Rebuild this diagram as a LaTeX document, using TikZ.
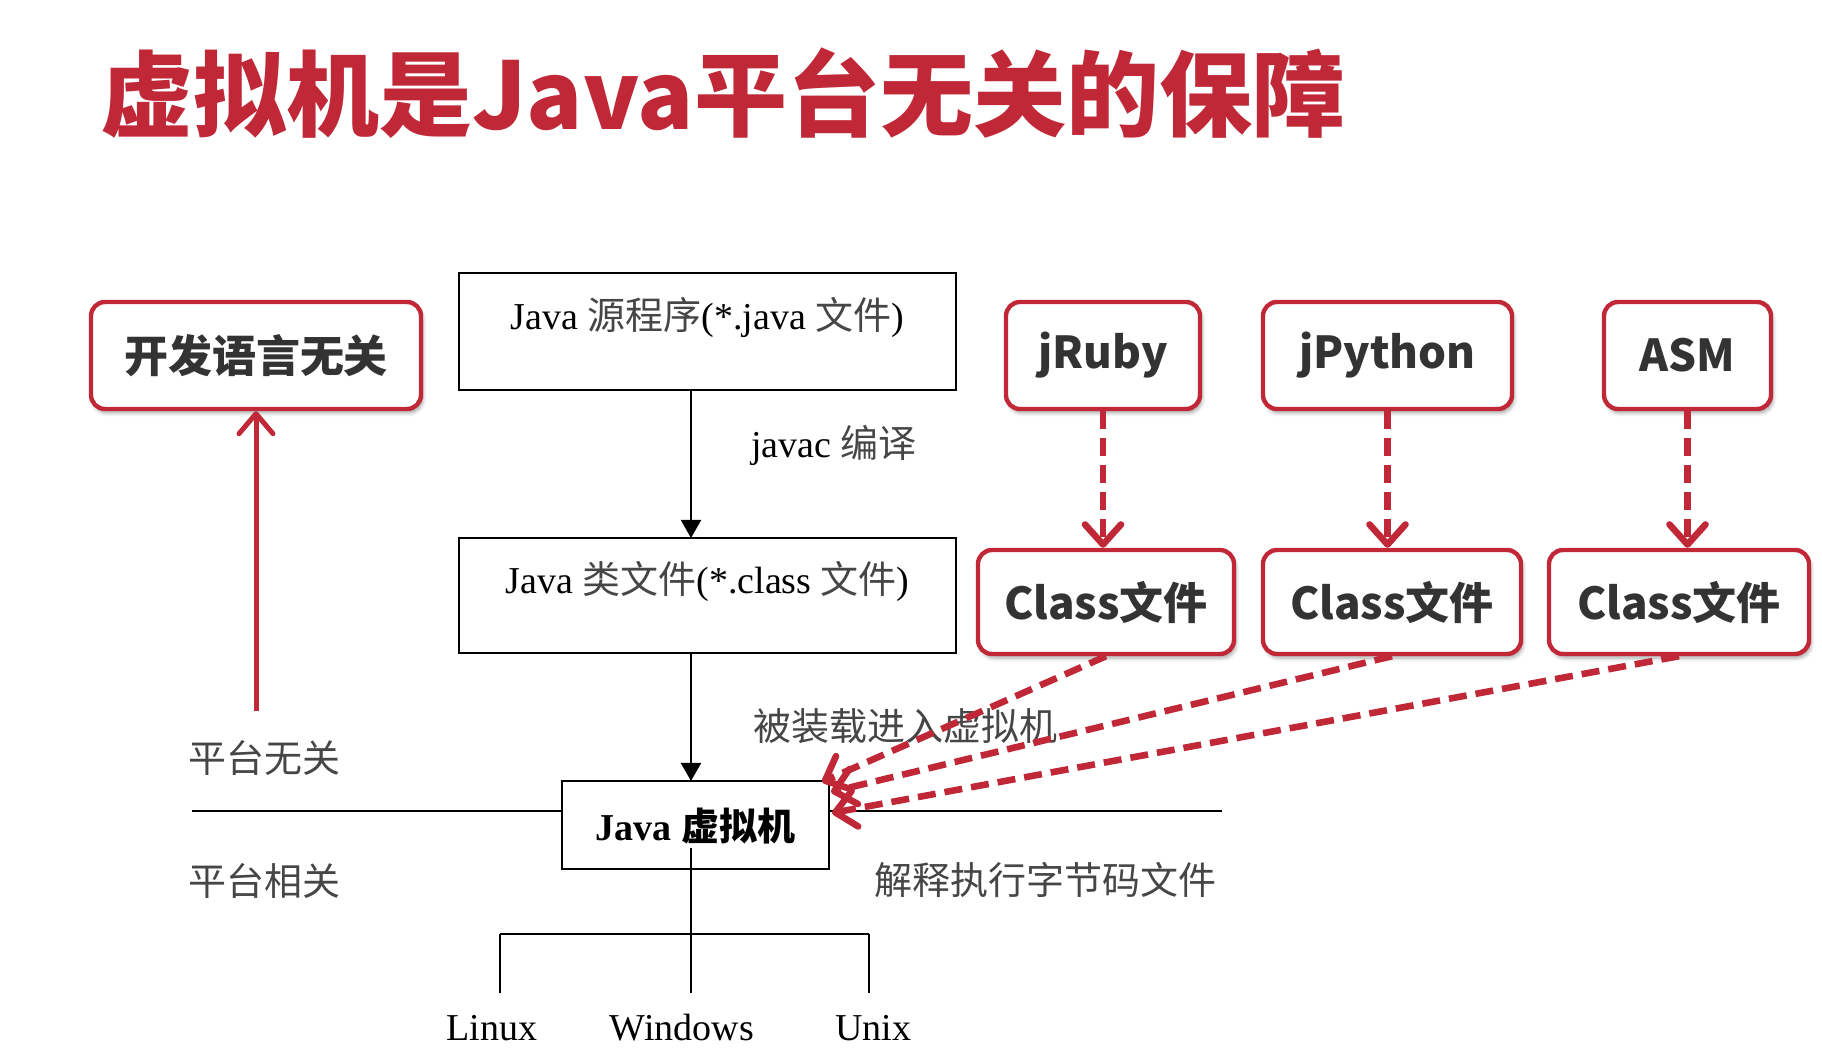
\documentclass[tikz,border=0pt]{standalone}
\usepackage{fontspec}
\setmainfont{Liberation Serif}
\newfontfamily\cjk{Noto Sans CJK SC}
\usetikzlibrary{arrows.meta,shadows.blur}
\definecolor{jred}{RGB}{192,40,56}
\definecolor{ink}{RGB}{51,51,51}
\definecolor{zhgray}{RGB}{70,70,70}
\newcommand{\zh}[1]{{\cjk\color{zhgray}#1}}
\tikzset{
  redbox/.style={draw=jred, line width=2.2pt, rounded corners=7pt, fill=white,
    blur shadow={shadow xshift=1pt, shadow yshift=-2pt, shadow blur steps=6, shadow opacity=35},
    font=\cjk\bfseries\fontsize{22}{26}\selectfont, text=ink, inner sep=0pt},
  blackbox/.style={draw=black, line width=1.2pt, fill=white, inner sep=0pt},
  bt/.style={font=\fontsize{19}{22}\selectfont, text=black, inner sep=0pt},
  thin/.style={draw=black, line width=1pt},
  blackarrow/.style={thin, -{Triangle[length=9pt,width=10pt]}},
  reddash/.style={draw=jred, line width=3.3pt, dash pattern=on 9pt off 4.5pt,
    -{Straight Barb[length=10pt,width=18pt,round]}},
  redsolid/.style={draw=jred, line width=2.5pt, -{Straight Barb[length=10pt,width=17pt,round]}}
}
\begin{document}
\begin{tikzpicture}[x=0.5pt,y=-0.5pt]
\useasboundingbox (0,0) rectangle (1822,1052);
% title
\node[anchor=west, inner sep=0pt, text=jred, font=\cjk\bfseries\fontsize{46.5}{52}\selectfont] (title) at (100,93) {虚拟机是Java平台无关的保障};
% left
\node[redbox, minimum width=165pt, minimum height=53.5pt] (lang) at (256,355.5) {开发语言无关};
% black flow
\node[blackbox, minimum width=248.5pt, minimum height=58.5pt] (src) at (707.5,331.5) {};
\node[bt] (srct) at (707.5,317) {Java \zh{源程序}(*.java \zh{文件})};
\node[blackbox, minimum width=248.5pt, minimum height=57.5pt] (cls) at (707.5,595.5) {};
\node[bt] (clst) at (707.5,581) {Java \zh{类文件}(*.class \zh{文件})};
\node[blackbox, minimum width=133.5pt, minimum height=44pt] (jvm) at (695.5,825) {};
\node[bt, font=\bfseries\fontsize{19}{22}\selectfont] (jvmt) at (695.5,826) {Java {\cjk\bfseries 虚拟机}};
\node[bt] (javac) at (834,445) {javac \zh{编译}};
\node[bt] (load) at (905,726) {\zh{被装载进入虚拟机}};
\node[bt] (ind) at (264,758) {\zh{平台无关}};
\node[bt] (dep) at (264,881) {\zh{平台相关}};
\node[bt] (interp) at (1045,880) {\zh{解释执行字节码文件}};
\coordinate (srcout) at (691,390);
\coordinate (clsin) at (691,538);
\coordinate (clsout) at (691,653);
\coordinate (jvmin) at (691,781);
\draw[blackarrow] (srcout) -- (clsin);
\draw[blackarrow] (clsout) -- (jvmin);
% separator
\coordinate (sepL) at (192,811);
\coordinate (sepR) at (1222,811);
\draw[thin] (sepL) -- (jvm.west |- sepL);
\draw[thin] (jvm.east |- sepR) -- (sepR);
% tree
\coordinate (stem) at (691,848);
\coordinate (barL) at (500,934);
\coordinate (barR) at (869,934);
\node[bt] (linux) at (492,1028) {Linux};
\node[bt] (win) at (682,1028) {Windows};
\node[bt] (unix) at (873,1028) {Unix};
\coordinate (lx) at (500,993);
\coordinate (wx) at (691,993);
\coordinate (ux) at (869,993);
\draw[thin] (stem) -- (wx);
\draw[thin] (barL) -- (barR);
\draw[thin] (barL) -- (lx);
\draw[thin] (barR) -- (ux);
% red upward arrow
\coordinate (up0) at (256,711);
\draw[redsolid] (up0) -- (lang.south);
% right boxes
\node[redbox, minimum width=97pt, minimum height=53.5pt] (jruby) at (1103,355.5) {jRuby};
\node[redbox, minimum width=124.5pt, minimum height=53.5pt] (jpy) at (1387.5,355.5) {jPython};
\node[redbox, minimum width=83.5pt, minimum height=53.5pt] (asm) at (1687.5,355.5) {ASM};
\node[redbox, minimum width=128pt, minimum height=52pt] (c1) at (1106,602) {Class文件};
\node[redbox, minimum width=129pt, minimum height=52pt] (c2) at (1392,602) {Class文件};
\node[redbox, minimum width=130pt, minimum height=52pt] (c3) at (1679,602) {Class文件};
\draw[reddash] (jruby.south) -- (jruby.south |- c1.north);
\draw[reddash] (jpy.south) -- (jpy.south |- c2.north);
\draw[reddash] (asm.south) -- (asm.south |- c3.north);
\coordinate (t1) at (822,782);
\coordinate (t2) at (831,792);
\coordinate (t3) at (832,813);
\draw[reddash] (c1.south) -- (t1);
\draw[reddash] (c2.south) -- (t2);
\draw[reddash] (c3.south) -- (t3);
\end{tikzpicture}
\end{document}
